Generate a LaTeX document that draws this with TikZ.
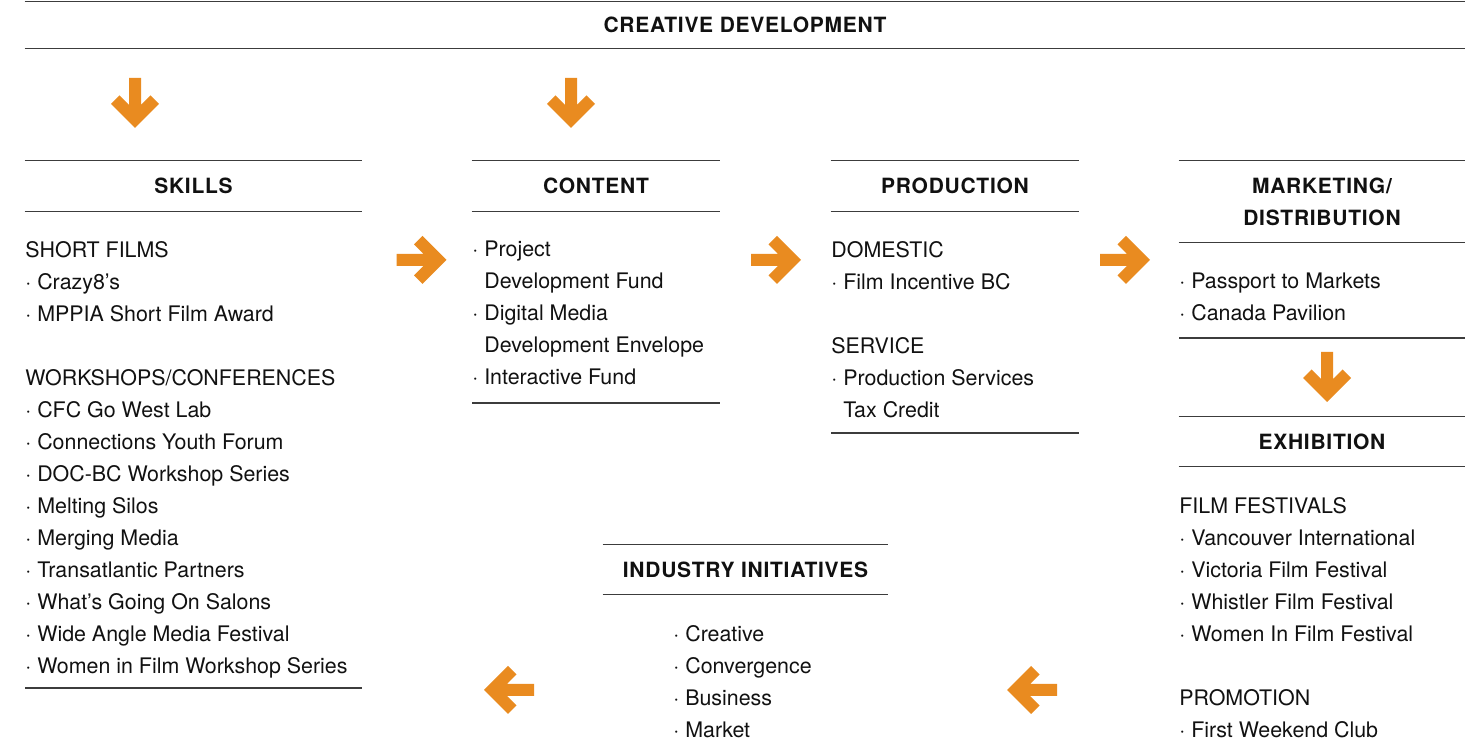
\documentclass[tikz,border=0pt]{standalone}
\usepackage{fontspec}
\setmainfont{TeX Gyre Heros}
\newfontfamily\headfont[LetterSpace=3.5]{TeX Gyre Heros}
\usetikzlibrary{positioning}
\definecolor{chartink}{HTML}{111111}
\definecolor{chartrule}{HTML}{3C3C3C}
\definecolor{chartorange}{HTML}{E98B20}
\definecolor{chartrust}{HTML}{D5731E}

\begin{document}
\begin{tikzpicture}[
  x=0.5pt, y=-0.5pt,
  font=\rmfamily,
  rule/.style={draw=chartrule, line width=0.75pt},
  head/.style={inner sep=0pt, align=center, text=chartink,
    font=\headfont\bfseries\fontsize{10.5}{16}\selectfont},
  body/.style={anchor=north west, inner sep=0pt, align=left, text=chartink,
    font=\fontsize{10.7}{16}\selectfont},
  arrowfill/.style={fill=chartorange},
  fatarrow/.pic={
    \fill[arrowfill, pic actions] (-25,6) -- (2,6) -- (-7.5,15.5) -- (1,24) -- (25,0)
      -- (1,-24) -- (-7.5,-15.5) -- (2,-6) -- (-25,-6) -- cycle;
  },
]
\useasboundingbox (0,0) rectangle (1480,747);

% ===== header =====
\node[head, minimum width=720pt, minimum height=23pt] (creative) at (745,25)
  {CREATIVE DEVELOPMENT};
\draw[rule] (creative.north west) -- (creative.north east);
\draw[rule] (creative.south west) -- (creative.south east);

\pic[rotate=-90] at (135,103) {fatarrow};
\pic[rotate=-90] at (571,103) {fatarrow};

% ===== skills =====
\node[head, minimum width=168.5pt, minimum height=25pt] (skills) at (193.5,186) {SKILLS};
\draw[rule] (skills.north west) -- (skills.north east);
\draw[rule] (skills.south west) -- (skills.south east);
\node[body] (skillsList) at (25,241)
  {SHORT FILMS\\
   · Crazy8’s\\
   · MPPIA Short Film Award\\[16pt]
   WORKSHOPS/CONFERENCES\\
   · CFC Go West Lab\\
   · Connections Youth Forum\\
   · DOC-BC Workshop Series\\
   · Melting Silos\\
   · Merging Media\\
   · Transatlantic Partners\\
   · What’s Going On Salons\\
   · Wide Angle Media Festival\\
   · Women in Film Workshop Series};
\draw[rule] (25,688) -- (362,688);

\pic at (421.5,260) {fatarrow};

% ===== content =====
\node[head, minimum width=124pt, minimum height=25pt] (content) at (596,186) {CONTENT};
\draw[rule] (content.north west) -- (content.north east);
\draw[rule] (content.south west) -- (content.south east);
\node[body] (contentList) at (472,241)
  {· Project\\
   \phantom{· }Development Fund\\
   · Digital Media\\
   \phantom{· }Development Envelope\\
   · Interactive Fund};
\draw[rule] (472,403) -- (720,403);

\pic at (776,260) {fatarrow};

% ===== production =====
\node[head, minimum width=124pt, minimum height=25pt] (production) at (955,186) {PRODUCTION};
\draw[rule] (production.north west) -- (production.north east);
\draw[rule] (production.south west) -- (production.south east);
\node[body] (productionList) at (831,241)
  {DOMESTIC\\
   · Film Incentive BC\\[16pt]
   SERVICE\\
   · Production Services\\
   \phantom{· }Tax Credit};
\draw[rule] (831,433) -- (1079,433);

\pic at (1125,260) {fatarrow};

% ===== marketing / distribution =====
\node[head, minimum width=143pt, minimum height=40.5pt] (market) at (1322,201.5)
  {MARKETING/\\DISTRIBUTION};
\draw[rule] (market.north west) -- (market.north east);
\draw[rule] (market.south west) -- (market.south east);
\node[body] (marketList) at (1179,273)
  {· Passport to Markets\\
   · Canada Pavilion};
\draw[rule] (1179,338) -- (1465,338);

\pic[rotate=-90, fill=chartrust] at (1327,377) {fatarrow};

% ===== exhibition =====
\node[head, minimum width=143pt, minimum height=24.5pt] (exhibit) at (1322,441.5) {EXHIBITION};
\draw[rule] (exhibit.north west) -- (exhibit.north east);
\draw[rule] (exhibit.south west) -- (exhibit.south east);
\node[body] (exhibitList) at (1179,497)
  {FILM FESTIVALS\\
   · Vancouver International\\
   · Victoria Film Festival\\
   · Whistler Film Festival\\
   · Women In Film Festival\\[16pt]
   PROMOTION\\
   · First Weekend Club};

\pic[rotate=180] at (1032,690) {fatarrow};

% ===== industry initiatives =====
\node[head, minimum width=142.5pt, minimum height=24.5pt] (industry) at (745.5,569.5)
  {INDUSTRY INITIATIVES};
\draw[rule] (industry.north west) -- (industry.north east);
\draw[rule] (industry.south west) -- (industry.south east);
\node[body] (industryList) at (673,625)
  {· Creative\\
   · Convergence\\
   · Business\\
   · Market};

\pic[rotate=180] at (509,690) {fatarrow};

\end{tikzpicture}
\end{document}
